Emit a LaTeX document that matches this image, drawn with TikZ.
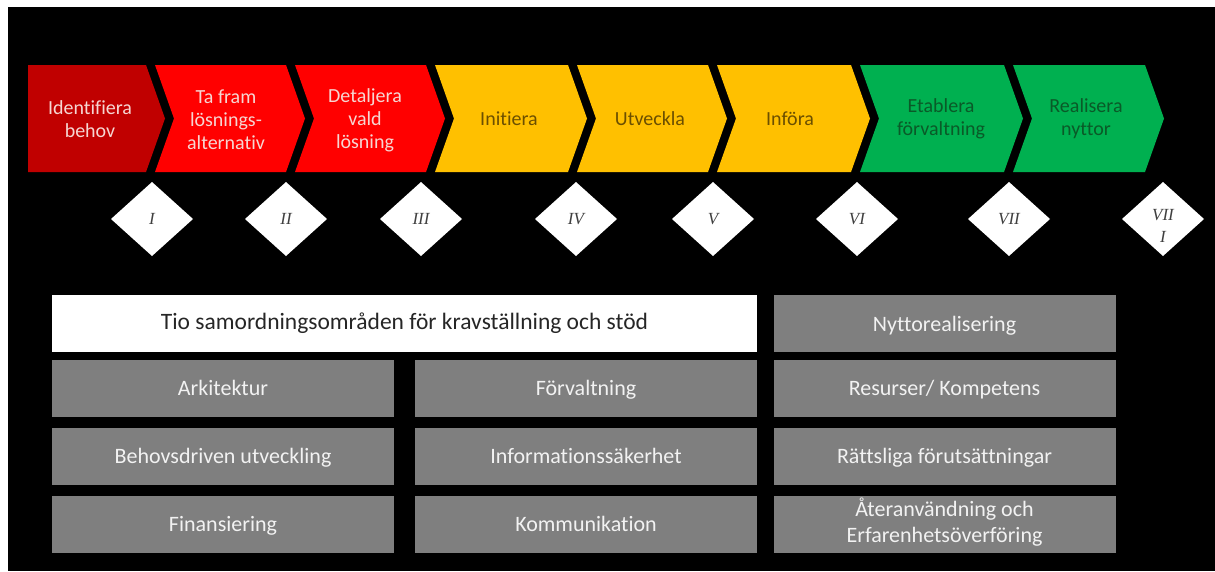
\documentclass[tikz,border=0pt]{standalone}
\usepackage{fontspec}
\setmainfont{Carlito}[Ligatures=NoCommon]
\newfontfamily\numfont{Liberation Serif}
\definecolor{darkred}{HTML}{C00000}
\definecolor{brightred}{HTML}{FF0000}
\definecolor{gold}{HTML}{FFC000}
\definecolor{grn}{HTML}{00B050}
\definecolor{redtxt}{HTML}{F6D6D2}
\definecolor{goldtxt}{HTML}{6B4F00}
\definecolor{grntxt}{HTML}{0A5A28}
\definecolor{boxgray}{HTML}{7F7F7F}
\definecolor{boxtxt}{HTML}{F2F2F2}
\definecolor{numtxt}{HTML}{404040}
\begin{document}
\begin{tikzpicture}[x=1pt,y=-1pt,
  chevtext/.style={align=center,font=\fontsize{20}{23}\selectfont,inner sep=0pt},
  diam/.style={fill=white},
  numtext/.style={font=\numfont\itshape\fontsize{17}{22}\selectfont,text=numtxt,inner sep=0pt,align=center},
  areabox/.style={fill=boxgray,text=boxtxt,minimum width=342pt,minimum height=57pt,inner sep=0pt,align=center,font=\fontsize{22}{26}\selectfont,
    execute at begin node={\rule{0pt}{23pt}},execute at end node=\strut},
  titlebox/.style={fill=white,text=black!85,minimum width=705pt,minimum height=57pt,inner sep=0pt,font=\fontsize{23.5}{28}\selectfont,
    execute at begin node=\strut}
]
\useasboundingbox (0,0) rectangle (1215,571);
\fill[white] (0,0) rectangle (1215,571);
\fill[black] (8,7) rectangle (1215,571);

% chevrons: top 65, bottom 172, mid 118.5, depth 19
\def\ct{65}\def\cb{172}\def\cm{118.5}
\fill[darkred] (28,\ct) -- (146,\ct) -- (165,\cm) -- (146,\cb) -- (28,\cb) -- cycle;
\fill[brightred] (155,\ct) -- (286,\ct) -- (305,\cm) -- (286,\cb) -- (155,\cb) -- (174,\cm) -- cycle;
\fill[brightred] (295,\ct) -- (426,\ct) -- (445,\cm) -- (426,\cb) -- (295,\cb) -- (314,\cm) -- cycle;
\fill[gold] (435,\ct) -- (568,\ct) -- (587,\cm) -- (568,\cb) -- (435,\cb) -- (454,\cm) -- cycle;
\fill[gold] (577,\ct) -- (708,\ct) -- (727,\cm) -- (708,\cb) -- (577,\cb) -- (596,\cm) -- cycle;
\fill[gold] (717,\ct) -- (851,\ct) -- (870,\cm) -- (851,\cb) -- (717,\cb) -- (736,\cm) -- cycle;
\fill[grn] (860,\ct) -- (1004,\ct) -- (1023,\cm) -- (1004,\cb) -- (860,\cb) -- (879,\cm) -- cycle;
\fill[grn] (1013,\ct) -- (1145,\ct) -- (1164,\cm) -- (1145,\cb) -- (1013,\cb) -- (1032,\cm) -- cycle;

\node[chevtext,text=redtxt] (c1) at (90,119) {Identifiera\\behov};
\node[chevtext,text=redtxt] (c2) at (226,120) {Ta fram\\lösnings-\\alternativ};
\node[chevtext,text=redtxt] (c3) at (365,120) {Detaljera\\vald\\lösning};
\node[chevtext,text=goldtxt] (c4) at (509,119) {Initiera};
\node[chevtext,text=goldtxt] (c5) at (650,119) {Utveckla};
\node[chevtext,text=goldtxt] (c6) at (790,119) {Införa};
\node[chevtext,text=grntxt] (c7) at (941,119) {Etablera\\förvaltning};
\node[chevtext,text=grntxt] (c8) at (1086,119) {Realisera\\nyttor};

% diamonds
\foreach \x in {152,286,421,576,713,857,1009,1163}{
  \fill[diam] (\x-41,219) -- (\x,182) -- (\x+41,219) -- (\x,256) -- cycle;
}
\node[numtext] (d1) at (152,219) {I};
\node[numtext] (d2) at (286,219) {II};
\node[numtext] (d3) at (421,219) {III};
\node[numtext] (d4) at (576,219) {IV};
\node[numtext] (d5) at (713,219) {V};
\node[numtext] (d6) at (857,219) {VI};
\node[numtext] (d7) at (1009,219) {VII};
\node[numtext] (d8) at (1163,226) {VII\\I};

% boxes
\node[titlebox] (t0) at (404.5,323.5) {Tio samordningsområden för kravställning och stöd};
\node[areabox] (a1) at (223,388) {Arkitektur};
\node[areabox] (a2) at (223,456) {Behovsdriven utveckling};
\node[areabox] (a3) at (223,524) {Finansiering};
\node[areabox] (b1) at (586,388) {Förvaltning};
\node[areabox] (b2) at (586,456) {Informationssäkerhet};
\node[areabox] (b3) at (586,524) {Kommunikation};
\node[areabox] (r0) at (944.5,323.5) {Nyttorealisering};
\node[areabox] (r1) at (944.5,388) {Resurser/ Kompetens};
\node[areabox] (r2) at (944.5,456) {Rättsliga förutsättningar};
\node[areabox] (r3) at (944.5,524) {Återanvändning och\\Erfarenhetsöverföring};
\end{tikzpicture}
\end{document}
